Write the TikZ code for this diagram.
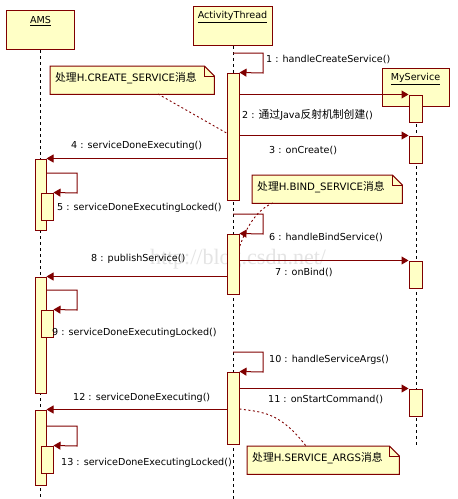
\documentclass[tikz,border=0pt]{standalone}
\usepackage{fontspec}
\setmainfont{DejaVu Sans}
\newfontfamily\cjkfam{Noto Sans CJK SC}
\newcommand{\cjk}{\cjkfam\fontsize{10.8}{11}\selectfont}
\newfontfamily\wmfont{Liberation Serif}
\usetikzlibrary{arrows.meta}
\definecolor{mred}{HTML}{800000}
\definecolor{myel}{HTML}{FFFFC6}
\definecolor{wm}{HTML}{E4E4E4}
\begin{document}
\begin{tikzpicture}[x=1pt,y=-1pt,
  every node/.style={font=\fontsize{9.6}{11}\selectfont, inner sep=0pt},
  objbox/.style={draw=mred, fill=myel, line width=1pt, minimum width=#1},
  act/.style={draw=mred, fill=myel, line width=1pt, minimum width=12pt, minimum height=#1},
  life/.style={black, line width=0.8pt, dash pattern=on 3pt off 3pt},
  msg/.style={draw=mred, line width=1pt, -{Triangle[length=7pt,width=8pt]}},
  lbl/.style={anchor=west, text=black},
  notebox/.style={minimum width=#1, minimum height=28pt, anchor=north west},
  notelink/.style={draw=mred, line width=0.9pt, dash pattern=on 2pt off 2.5pt}
]
\useasboundingbox (0,0) rectangle (458,499);
\fill[white] (0,0) rectangle (458,499);

% watermark
\node[font=\wmfont\fontsize{22}{24}\selectfont, text=wm] (wmk) at (238,259) {http://blog.csdn.net/};

% header boxes
\node[objbox=68pt, minimum height=39pt, anchor=north west] (ams) at (6,10) {};
\node[objbox=79pt, minimum height=39pt, anchor=north west] (at) at (193,6) {};
\node[objbox=67pt, minimum height=38pt, anchor=north west] (ms) at (382,68) {};
\node (amsT) at (40.5,21.5) {\underline{AMS}};
\node (atT) at (232.5,17) {\underline{ActivityThread}};
\node (msT) at (415.5,79) {\underline{MyService}};

% lifeline ends
\coordinate (amsEnd) at (40.5,499);
\coordinate (atEnd) at (233,499);
\coordinate (msEnd) at (416,446);
\draw[life] (ams.south) -- (amsEnd);
\draw[life] (at.south) -- (atEnd);
\draw[life] (416,106) -- (msEnd);

% activations
\node[act=127pt] (at1) at (233,136.5) {};
\node[act=60pt] (at2) at (233,264) {};
\node[act=72pt] (at3) at (233,408) {};
\node[act=27pt, minimum width=13pt] (ms1) at (415.5,108.5) {};
\node[act=27pt, minimum width=13pt] (ms2) at (415.5,149.5) {};
\node[act=27pt, minimum width=13pt] (ms3) at (415.5,274.5) {};
\node[act=27pt, minimum width=13pt] (ms4) at (415.5,402.5) {};
\node[act=71pt, minimum width=11pt] (ams1) at (40.5,194.5) {};
\node[act=116pt, minimum width=11pt] (ams2) at (40.5,335) {};
\node[act=75pt, minimum width=11pt] (ams3) at (40.5,447.5) {};
\node[act=27pt] (n1) at (47,206.5) {};
\node[act=27pt] (n2) at (47,323.5) {};
\node[act=27pt] (n3) at (47,459.5) {};

% self calls on ActivityThread
\coordinate (s1) at (233,53);
\coordinate (s6) at (233,214);
\coordinate (s10) at (233,352);
\draw[msg] (s1) -- (263,53) -- (263,73) -- (at1.north east);
\draw[msg] (s6) -- (263,214) -- (263,234) -- (at2.north east);
\draw[msg] (s10) -- (263,352) -- (263,372) -- (at3.north east);

% self calls on AMS
\draw[msg] (ams1.east |- 0,173) -- (77,173) -- (77,193) -- (n1.north east);
\draw[msg] (ams2.east |- 0,290) -- (77,290) -- (77,310) -- (n2.north east);
\draw[msg] (ams3.east |- 0,426) -- (77,426) -- (77,446) -- (n3.north east);

% messages
\draw[msg] (at1.east |- ms1.north) -- (ms1.north west);
\draw[msg] (at1.east |- ms2.north) -- (ms2.north west);
\draw[msg] (at1.west |- ams1.north) -- (ams1.north east);
\draw[msg] (at2.east |- ms3.north) -- (ms3.north west);
\draw[msg] (at2.west |- ams2.north) -- (ams2.north east);
\draw[msg] (at3.east |- ms4.north) -- (ms4.north west);
\draw[msg] (at3.west |- ams3.north) -- (ams3.north east);

% labels
\node[lbl] (l1) at (266,59) {1 : handleCreateService()};
\node[lbl] (l2) at (242,115) {2 : {\cjk 通过}Java{\cjk 反射机制创建}()};
\node[lbl] (l3) at (269,150) {3 : onCreate()};
\node[lbl] (l4) at (71,146) {4 : serviceDoneExecuting()};
\node[lbl] (l5) at (57,208) {5 : serviceDoneExecutingLocked()};
\node[lbl] (l6) at (269,237) {6 : handleBindService()};
\node[lbl] (l7) at (275,272) {7 : onBind()};
\node[lbl] (l8) at (91,259) {8 : publishService()};
\node[lbl] (l9) at (52,333) {9 : serviceDoneExecutingLocked()};
\node[lbl] (l10) at (269,360) {10 : handleServiceArgs()};
\node[lbl] (l11) at (268,399) {11 : onStartCommand()};
\node[lbl] (l12) at (73,398) {12 : serviceDoneExecuting()};
\node[lbl] (l13) at (61,463) {13 : serviceDoneExecutingLocked()};

% notes
\node[notebox=164pt] (note1) at (50,66) {};
\node[notebox=150pt] (note2) at (252,175) {};
\node[notebox=152pt] (note3) at (247,446) {};
\foreach \n in {note1,note2,note3}{
  \filldraw[draw=mred, fill=myel, line width=1pt]
    (\n.north west) -- ([xshift=-10pt]\n.north east) -- ([yshift=-10pt]\n.north east)
    -- (\n.south east) -- (\n.south west) -- cycle;
  \draw[mred, line width=1pt] ([xshift=-10pt]\n.north east) -- ([xshift=-10pt,yshift=-10pt]\n.north east) -- ([yshift=-10pt]\n.north east);
}
\node[lbl, font=\fontsize{10.2}{11}\selectfont] (t1) at ([xshift=5pt,yshift=2pt]note1.west) {{\cjk 处理}H.CREATE\_SERVICE{\cjk 消息}};
\node[lbl, font=\fontsize{10.2}{11}\selectfont] (t2) at ([xshift=5pt,yshift=2pt]note2.west) {{\cjk 处理}H.BIND\_SERVICE{\cjk 消息}};
\node[lbl, font=\fontsize{10.2}{11}\selectfont] (t3) at ([xshift=5pt,yshift=2pt]note3.west) {{\cjk 处理}H.SERVICE\_ARGS{\cjk 消息}};

% note links
\draw[notelink] (158,94) -- (at1.west |- 0,133);
\draw[notelink] (273,203) .. controls (258,209) and (247,225) .. (at2.east |- 0,247);
\draw[notelink] (at3.east |- 0,409) .. controls (262,412) and (280,412) .. (306,446);
\end{tikzpicture}
\end{document}
